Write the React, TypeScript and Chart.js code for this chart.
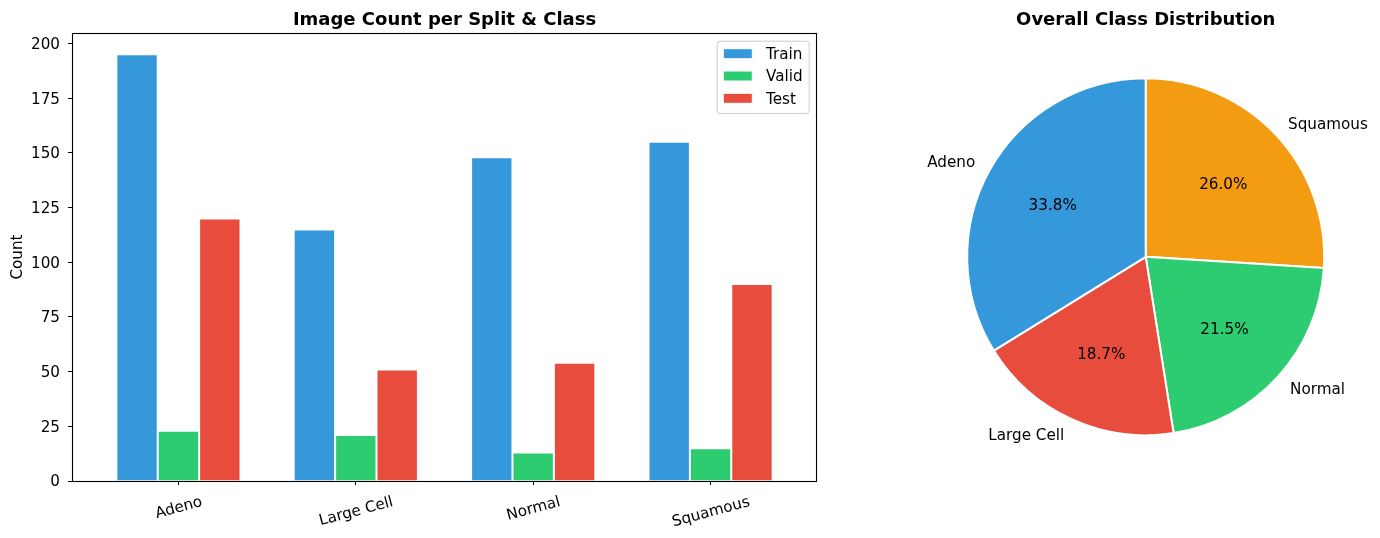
import React, { useEffect, useRef } from 'react';
import { Chart, registerables } from 'chart.js';

Chart.register(...registerables);

// ---------- data ----------
const CATEGORIES = ['Adeno', 'Large Cell', 'Normal', 'Squamous'];
const SPLITS = ['Train', 'Valid', 'Test'];
const TRAIN = [195, 115, 148, 155];
const VALID = [23, 21, 13, 15];
const TEST = [120, 51, 54, 90];
const Y_TICKS = [0, 25, 50, 75, 100, 125, 150, 175, 200];
const PIE_LABELS = ['Adeno', 'Large Cell', 'Normal', 'Squamous'];
const PIE_VALUES = [338, 187, 215, 260];

// ---------- styles ----------
const BAR_COLORS = ['#3498db', '#2ecc71', '#e74c3c'];
const PIE_COLORS = ['#3498db', '#e74c3c', '#2ecc71', '#f39c12'];
const FONT = '"DejaVu Sans", sans-serif';
const TXT = 15.2;
const MID_SHIFT = 1.5;

Chart.defaults.font.family = FONT;
Chart.defaults.color = '#000';

const barDecor = {
  id: 'barDecor',
  afterDraw(chart: any) {
    const { ctx, chartArea: a } = chart;
    ctx.save();
    // spines
    ctx.strokeStyle = '#000';
    ctx.lineWidth = 1.1;
    ctx.strokeRect(a.left + 0.5, a.top + 0.5, a.right - a.left - 1, a.bottom - a.top);

    // legend
    const bw = 92, bh = 72.3;
    const bx = a.right - 8.3 - bw;
    const by = a.top + 7.7;
    ctx.beginPath();
    if ((ctx as any).roundRect) (ctx as any).roundRect(bx + 0.5, by + 0.5, bw, bh, 3);
    else ctx.rect(bx + 0.5, by + 0.5, bw, bh);
    ctx.fillStyle = 'rgba(255,255,255,0.8)';
    ctx.fill();
    ctx.strokeStyle = '#cccccc';
    ctx.lineWidth = 1;
    ctx.stroke();
    ctx.font = `${TXT}px ${FONT}`;
    ctx.textBaseline = 'middle';
    ctx.textAlign = 'left';
    SPLITS.forEach((name, k) => {
      const cy = by + 13 + k * 22.3;
      ctx.fillStyle = BAR_COLORS[k];
      ctx.fillRect(bx + 6.6, cy - 5, 29, 10);
      ctx.strokeStyle = '#ffffff';
      ctx.lineWidth = 1;
      ctx.strokeRect(bx + 6.6, cy - 5, 29, 10);
      ctx.fillStyle = '#000';
      ctx.fillText(name, bx + 49.3, cy + MID_SHIFT);
    });

    // x tick labels, rotated 15deg, centered
    const xs = chart.scales.x;
    const rot = (15 * Math.PI) / 180;
    CATEGORIES.forEach((c, i) => {
      const px = xs.getPixelForValue(i);
      const w = ctx.measureText(c).width;
      const H = w * Math.sin(rot) + 17.5 * Math.cos(rot);
      const cy = a.bottom + 11 + H / 2;
      ctx.save();
      ctx.translate(px, cy);
      ctx.rotate(-rot);
      ctx.textAlign = 'center';
      ctx.textBaseline = 'middle';
      ctx.fillStyle = '#000';
      ctx.fillText(c, 0, MID_SHIFT);
      ctx.restore();
    });

    // y axis title
    ctx.save();
    ctx.translate(17, (a.top + a.bottom) / 2);
    ctx.rotate(-Math.PI / 2);
    ctx.textAlign = 'center';
    ctx.textBaseline = 'middle';
    ctx.fillStyle = '#000';
    ctx.fillText('Count', 0, MID_SHIFT);
    ctx.restore();

    // title
    ctx.font = `bold 18px ${FONT}`;
    ctx.textAlign = 'center';
    ctx.textBaseline = 'alphabetic';
    ctx.fillStyle = '#000';
    ctx.fillText('Image Count per Split & Class', (a.left + a.right) / 2, 25);
    ctx.restore();
  },
};

const pieDecor = {
  id: 'pieDecor',
  afterDraw(chart: any) {
    const { ctx } = chart;
    const meta = chart.getDatasetMeta(0);
    const vals = chart.data.datasets[0].data as number[];
    const total = vals.reduce((s: number, v: number) => s + v, 0);
    ctx.save();
    ctx.font = `${TXT}px ${FONT}`;
    ctx.fillStyle = '#000';
    ctx.textBaseline = 'middle';
    let cx = 0;
    meta.data.forEach((arc: any, i: number) => {
      const { x, y, startAngle, endAngle, outerRadius } = arc;
      cx = x;
      const mid = (startAngle + endAngle) / 2;
      const r = outerRadius - 1;
      ctx.textAlign = Math.cos(mid) < 0 ? 'right' : 'left';
      ctx.fillText(chart.data.labels[i], x + Math.cos(mid) * r * 1.1, y + Math.sin(mid) * r * 1.1 + MID_SHIFT);
      ctx.textAlign = 'center';
      ctx.fillText(
        ((vals[i] / total) * 100).toFixed(1) + '%',
        x + Math.cos(mid) * r * 0.6,
        y + Math.sin(mid) * r * 0.6 + MID_SHIFT
      );
    });
    ctx.font = `bold 18px ${FONT}`;
    ctx.textAlign = 'center';
    ctx.textBaseline = 'alphabetic';
    ctx.fillText('Overall Class Distribution', cx, 25);
    ctx.restore();
  },
};

export default function App() {
  const barRef = useRef<HTMLCanvasElement>(null);
  const pieRef = useRef<HTMLCanvasElement>(null);

  useEffect(() => {
    const series = [TRAIN, VALID, TEST];
    const tickGrid = {
      offset: false,
      drawOnChartArea: false,
      drawTicks: true,
      tickLength: 4,
      color: '#000',
      lineWidth: 1,
    };
    const bar = new Chart(barRef.current as HTMLCanvasElement, {
      type: 'bar',
      data: {
        datasets: SPLITS.map((name, k) => ({
          label: name,
          data: series[k].map((v, i) => ({ x: i, y: v })),
          backgroundColor: BAR_COLORS[k],
          borderColor: '#ffffff',
          borderWidth: 1,
          borderSkipped: 'start',
          categoryPercentage: 0.7,
          barPercentage: 1.0,
        })),
      } as any,
      options: {
        animation: false,
        responsive: false,
        devicePixelRatio: 1,
        events: [],
        layout: { padding: { top: 33, left: 0, right: 43, bottom: 0 } },
        plugins: {
          legend: { display: false },
          title: { display: false },
          tooltip: { enabled: false },
        },
        scales: {
          x: {
            type: 'linear',
            min: -0.6,
            max: 3.6,
            offset: false,
            grid: tickGrid,
            border: { display: false },
            ticks: { display: false },
            afterBuildTicks: (s: any) => {
              s.ticks = CATEGORIES.map((_, i) => ({ value: i }));
            },
            afterFit: (s: any) => {
              s.height = 57;
            },
          },
          y: {
            type: 'linear',
            min: 0,
            max: 204.75,
            grid: tickGrid,
            border: { display: false },
            ticks: { font: { size: TXT, family: FONT }, color: '#000', padding: 8, labelOffset: MID_SHIFT },
            afterBuildTicks: (s: any) => {
              s.ticks = Y_TICKS.map((v) => ({ value: v }));
            },
            afterFit: (s: any) => {
              s.width = 72;
            },
          },
        },
      } as any,
      plugins: [barDecor],
    });

    const pie = new Chart(pieRef.current as HTMLCanvasElement, {
      type: 'pie',
      data: {
        labels: [...PIE_LABELS].reverse(),
        datasets: [
          {
            data: [...PIE_VALUES].reverse(),
            backgroundColor: [...PIE_COLORS].reverse(),
            borderColor: '#ffffff',
            borderWidth: 2,
          },
        ],
      },
      options: {
        animation: false,
        responsive: false,
        devicePixelRatio: 1,
        events: [],
        layout: { padding: { left: 106.2, top: 77.3, right: 54.8, bottom: 101.7 } },
        plugins: {
          legend: { display: false },
          title: { display: false },
          tooltip: { enabled: false },
        },
      } as any,
      plugins: [pieDecor],
    });

    return () => {
      bar.destroy();
      pie.destroy();
    };
  }, []);

  return (
    <div style={{ position: 'fixed', left: 0, top: 0, width: 1380, height: 538, background: '#ffffff' }}>
      <canvas ref={barRef} width={860} height={538} style={{ position: 'absolute', left: 0, top: 0 }} />
      <canvas ref={pieRef} width={520} height={538} style={{ position: 'absolute', left: 860, top: 0 }} />
    </div>
  );
}
